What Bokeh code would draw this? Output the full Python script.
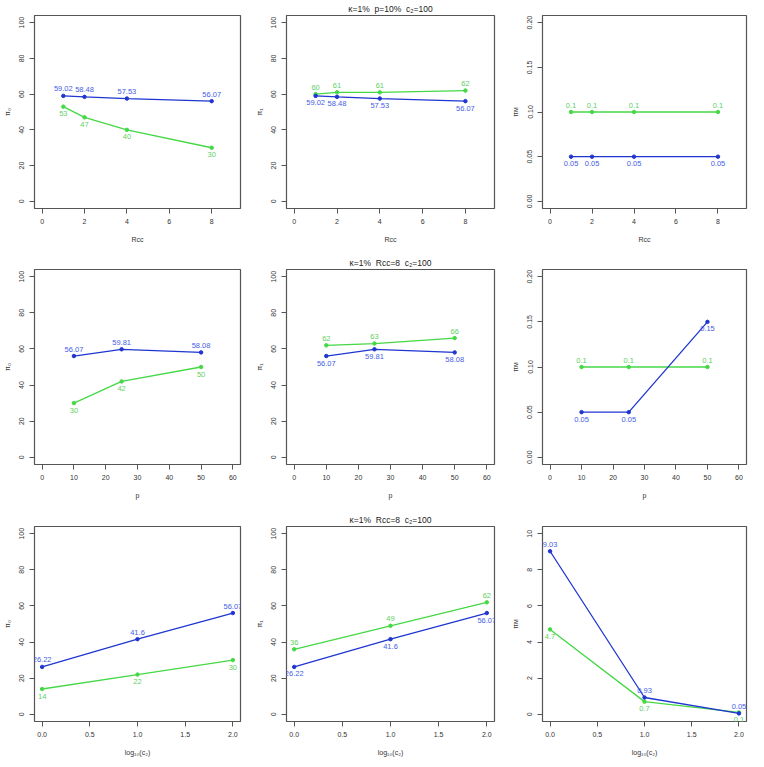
from bokeh.plotting import figure
from bokeh.models import Range1d, FixedTicker, NumeralTickFormatter, ColumnDataSource, Title
from bokeh.core.properties import value
from bokeh.layouts import column, row
from bokeh.embed import file_html
from bokeh.resources import INLINE

# ---------------- data ----------------
rcc = [1, 2, 4, 8]
p_pct = [10, 25, 50]
log_c2 = [0, 1, 2]

pi0_blue_rcc = [59.02, 58.48, 57.53, 56.07]
pi0_green_rcc = [53, 47, 40, 30]
pi1_blue_rcc = [59.02, 58.48, 57.53, 56.07]
pi1_green_rcc = [60, 61, 61, 62]
piM_blue_rcc = [0.05, 0.05, 0.05, 0.05]
piM_green_rcc = [0.1, 0.1, 0.1, 0.1]

pi0_blue_p = [56.07, 59.81, 58.08]
pi0_green_p = [30, 42, 50]
pi1_blue_p = [56.07, 59.81, 58.08]
pi1_green_p = [62, 63, 66]
piM_blue_p = [0.05, 0.05, 0.15]
piM_green_p = [0.1, 0.1, 0.1]

pi0_blue_c2 = [26.22, 41.6, 56.07]
pi0_green_c2 = [14, 22, 30]
pi1_blue_c2 = [26.22, 41.6, 56.07]
pi1_green_c2 = [36, 49, 62]
piM_blue_c2 = [9.03, 0.93, 0.05]
piM_green_c2 = [4.7, 0.7, 0.1]

xticks_rcc = [0, 2, 4, 6, 8]
xticks_p = [0, 10, 20, 30, 40, 50, 60]
xticks_c2 = [0, 0.5, 1, 1.5, 2]
yticks_pi = [0, 20, 40, 60, 80, 100]
yticks_piM_small = [0, 0.05, 0.10, 0.15, 0.20]
yticks_piM_c2 = [0, 2, 4, 6, 8, 10]

NB = "\u00a0"
title_rcc = f"κ=1%{NB}{NB}p=10%{NB}{NB}c₂=100"
title_p = f"κ=1%{NB}{NB}Rᴄᴄ=8{NB}{NB}c₂=100"
title_c2 = f"κ=1%{NB}{NB}Rᴄᴄ=8{NB}{NB}c₂=100"
xlab_rcc = "Rᴄᴄ"
xlab_p = "p"
xlab_c2 = "log₁₀(c₂)"
ylab_pi0 = "π₀"
ylab_pi1 = "π₁"
ylab_piM = "πᴍ"

# ---------------- style ----------------
BLUE_LINE = "#1f36d0"
BLUE_TEXT = "#4560e6"
GREEN_LINE = "#45d845"
GREEN_TEXT = "#5fcf5f"
FONT = "Liberation Sans"
AX = "#555555"

W = [252, 250, 246]
L = [32, 33, 40]
R = [12, 8, 2]
T = [13, 17, 21]
FH = [195, 195, 195]
B = [44, 41, 37]


def ext(lo, hi):
    d = (hi - lo) * 0.04
    return lo - d, hi + d


def panel(ci, ri, x, blue, green, xlim, ylim, xticks, yticks, xlab, ylab, blue_above,
          title=None, xfmt=None, yfmt=None):
    p = figure(width=W[ci], height=T[ri] + FH[ri] + B[ri],
               x_range=Range1d(*ext(*xlim)), y_range=Range1d(*ext(*ylim)),
               output_backend="svg", toolbar_location=None,
               min_border_left=L[ci], min_border_right=R[ci],
               min_border_top=T[ri], min_border_bottom=B[ri])
    p.xgrid.visible = False
    p.ygrid.visible = False
    p.outline_line_color = AX
    p.outline_line_width = 1.2
    p.background_fill_color = "white"
    p.border_fill_color = "white"
    p.xaxis.ticker = FixedTicker(ticks=xticks)
    p.yaxis.ticker = FixedTicker(ticks=yticks)
    if xfmt:
        p.xaxis.formatter = NumeralTickFormatter(format=xfmt)
    if yfmt:
        p.yaxis.formatter = NumeralTickFormatter(format=yfmt)
    for ax in (p.xaxis, p.yaxis):
        ax.axis_line_color = None
        ax.major_tick_line_color = AX
        ax.major_tick_out = 5
        ax.major_tick_in = 0
        ax.minor_tick_line_color = None
        ax.major_label_text_font = FONT
        ax.major_label_text_font_size = "7px"
        ax.major_label_text_color = "#333333"
        ax.major_label_standoff = 5
        ax.axis_label_text_font = FONT
        ax.axis_label_text_font_size = "7px"
        ax.axis_label_text_font_style = "normal"
        ax.axis_label_text_color = "#333333"
    p.yaxis.major_label_orientation = "vertical"
    p.xaxis.axis_label = xlab
    p.yaxis.axis_label = ylab
    p.xaxis.axis_label_standoff = 9
    p.yaxis.axis_label_standoff = 6

    for ys, lc, tc, above in [(green, GREEN_LINE, GREEN_TEXT, not blue_above),
                              (blue, BLUE_LINE, BLUE_TEXT, blue_above)]:
        src = ColumnDataSource(dict(x=x, y=ys, lab=[f"{v:g}" for v in ys]))
        p.line("x", "y", source=src, line_color=lc, line_width=1.3)
        p.scatter("x", "y", source=src, size=3.5, color=lc)
        p.text("x", "y", text="lab", source=src, text_color=tc, text_font=value(FONT),
               text_font_size="7.5px", text_align="center", text_baseline="middle",
               y_offset=-7 if above else 7)

    if title:
        p.title = Title(text=title, align="center", text_font=FONT, text_font_size="8.5px",
                        text_font_style="normal", text_color="#222222", standoff=3)
    return p


lim_pi = (0, 100)
figs = [
    [panel(0, 0, rcc, pi0_blue_rcc, pi0_green_rcc, (0, 9), lim_pi, xticks_rcc, yticks_pi, xlab_rcc, ylab_pi0, True),
     panel(1, 0, rcc, pi1_blue_rcc, pi1_green_rcc, (0, 9), lim_pi, xticks_rcc, yticks_pi, xlab_rcc, ylab_pi1, False, title=title_rcc),
     panel(2, 0, rcc, piM_blue_rcc, piM_green_rcc, (0, 9), (0, 0.2), xticks_rcc, yticks_piM_small, xlab_rcc, ylab_piM, False, yfmt="0.00")],
    [panel(0, 1, p_pct, pi0_blue_p, pi0_green_p, (0, 60), lim_pi, xticks_p, yticks_pi, xlab_p, ylab_pi0, True),
     panel(1, 1, p_pct, pi1_blue_p, pi1_green_p, (0, 60), lim_pi, xticks_p, yticks_pi, xlab_p, ylab_pi1, False, title=title_p),
     panel(2, 1, p_pct, piM_blue_p, piM_green_p, (0, 60), (0, 0.2), xticks_p, yticks_piM_small, xlab_p, ylab_piM, False, yfmt="0.00")],
    [panel(0, 2, log_c2, pi0_blue_c2, pi0_green_c2, (0, 2), lim_pi, xticks_c2, yticks_pi, xlab_c2, ylab_pi0, True, xfmt="0.0"),
     panel(1, 2, log_c2, pi1_blue_c2, pi1_green_c2, (0, 2), lim_pi, xticks_c2, yticks_pi, xlab_c2, ylab_pi1, False, title=title_c2, xfmt="0.0"),
     panel(2, 2, log_c2, piM_blue_c2, piM_green_c2, (0, 2), (0, 10), xticks_c2, yticks_piM_c2, xlab_c2, ylab_piM, True, xfmt="0.0")],
]

layout = column(*[row(*r) for r in figs])
open("out.html", "w").write(file_html(layout, INLINE))
